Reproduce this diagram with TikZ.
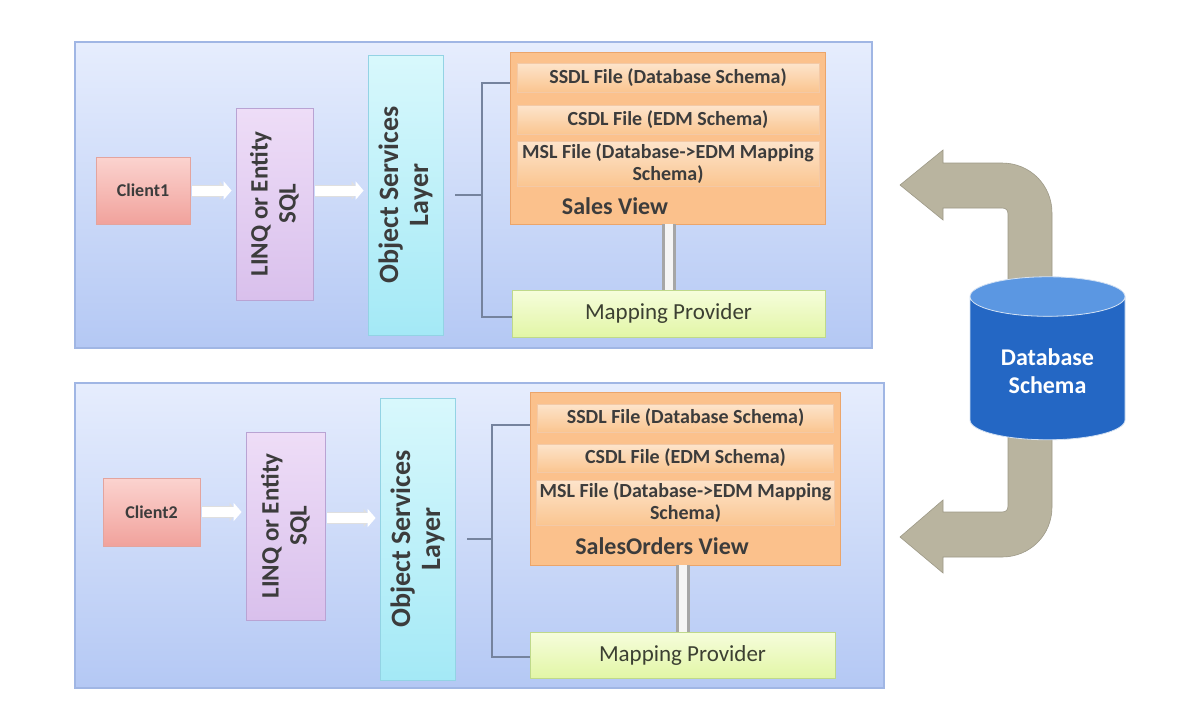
\documentclass[tikz,border=0pt]{standalone}
\usepackage{fontspec}
\setsansfont{Carlito}
\usetikzlibrary{calc, positioning, fit, backgrounds, shapes.geometric, arrows.meta}

\definecolor{pnlA}{HTML}{E6EDFD}
\definecolor{pnlB}{HTML}{B4C8F4}
\definecolor{pnlE}{HTML}{A0B6E4}
\definecolor{cliA}{HTML}{FBD3CF}
\definecolor{cliB}{HTML}{F1A29C}
\definecolor{cliE}{HTML}{E3A49E}
\definecolor{lnqA}{HTML}{EEDDF7}
\definecolor{lnqB}{HTML}{D9C0EC}
\definecolor{lnqE}{HTML}{B9A3D3}
\definecolor{oslA}{HTML}{D8F8FC}
\definecolor{oslB}{HTML}{A4E9F6}
\definecolor{oslE}{HTML}{93D3E4}
\definecolor{orgF}{HTML}{FBC18C}
\definecolor{orgE}{HTML}{EBA56B}
\definecolor{barA}{HTML}{FDE4CB}
\definecolor{barB}{HTML}{FAC590}
\definecolor{mapA}{HTML}{F6FDDC}
\definecolor{mapB}{HTML}{E2F6A6}
\definecolor{mapE}{HTML}{BFD98A}
\definecolor{dbBody}{HTML}{2467C4}
\definecolor{dbTop}{HTML}{5B97E2}
\definecolor{bend}{HTML}{B9B49F}
\definecolor{ink}{HTML}{3C3C3C}
\definecolor{brk}{HTML}{75839E}

\begin{document}
\begin{tikzpicture}[x=0.5pt, y=-0.5pt,
                  every node/.style={font=\sffamily, inner sep=0.5mm, align=center},
                  pnl/.style={draw=pnlE, top color=pnlA, bottom color=pnlB, line width=0.6pt},
                  cli/.style={draw=cliE, top color=cliA, bottom color=cliB, text=ink,
                              font=\sffamily\bfseries\fontsize{9}{11}\selectfont},
                  lnq/.style={draw=lnqE, top color=lnqA, bottom color=lnqB, text=ink, rotate=90,
                              font=\sffamily\bfseries\fontsize{12.5}{14}\selectfont},
                  osl/.style={draw=oslE, top color=oslA, bottom color=oslB, text=ink, rotate=90,
                              font=\sffamily\bfseries\fontsize{14}{15}\selectfont},
                  org/.style={draw=orgE, fill=orgF},
                  bar/.style={draw=orgE!60, top color=barA, bottom color=barB, text=ink,
                              font=\sffamily\bfseries\fontsize{10}{11}\selectfont},
                  vw/.style={text=ink, font=\sffamily\bfseries\fontsize{12}{14}\selectfont},
                  map/.style={draw=mapE, top color=mapA, bottom color=mapB, text=ink!70!mapE!60!black,
                              font=\sffamily\fontsize{11.5}{13}\selectfont},
                  blk/.style={draw=white, line width=5pt, -{Triangle[length=4pt, width=9pt]},
                              shorten <=1pt, shorten >=2pt,
                              preaction={draw=gray!25, line width=6pt, shorten <=1pt, shorten >=4pt}},
                  lnk/.style={draw=gray!70, double=gray!8, double distance=4pt, line width=1.5pt},
                  brkl/.style={draw=brk, line width=0.8pt},
                  bnd/.style={fill=bend, draw=bend!85!black, line width=0.3pt},
                  db/.style={cylinder, shape border rotate=90, aspect=0.4, draw=white!80!dbBody,
                             cylinder uses custom fill, cylinder body fill=dbBody, cylinder end fill=dbTop,
                             text=white, font=\sffamily\bfseries\fontsize{12}{14}\selectfont}]

    \useasboundingbox (0,0) rectangle (1200,720); % pixel grid of the reference
    \fill[white] (0,0) rectangle (1200,720);

    % upper panel
    \node[pnl, minimum width=398.5pt, minimum height=153pt] (pnl1) at (473.5,195) {};
    \node[cli, minimum width=47pt, minimum height=33.5pt] (cli1) at (143,190.5) {Client1};
    \node[lnq, minimum width=96pt, minimum height=38.5pt] (lnq1) at (274.5,204) {LINQ or Entity\\SQL};
    \node[osl, minimum width=140pt, minimum height=37.5pt] (osl1) at (405.5,195) {Object Services\\Layer};
    \node[org, minimum width=157.5pt, minimum height=86pt] (org1) at (667.5,138) {};
    \node[bar, minimum width=151pt, minimum height=14.5pt] (ssdl1) at (668,77.5) {SSDL File (Database Schema)};
    \node[bar, minimum width=151pt, minimum height=14.5pt] (csdl1) at (668,120) {CSDL File (EDM Schema)};
    \node[bar, minimum width=151pt, minimum height=21pt] (msl1) at (668,164) {MSL File (Database->EDM Mapping\\Schema)};
    \node[vw] (vw1) at (615,206) {Sales View};
    \node[map, minimum width=156.5pt, minimum height=23.5pt] (map1) at (668.5,313.5) {Mapping Provider};

    \draw[blk] (cli1.east) -- (cli1.east -| lnq1.north);
    \draw[blk] (lnq1.south |- cli1.east) -- (osl1.north |- cli1.east);
    \draw[lnk] (map1.north) -- (map1.north |- org1.south);

    \coordinate (brT1) at (482,83);
    \coordinate (brB1) at (482,317);
    \draw[brkl] (org1.west |- brT1) -- (brT1) -- (brB1) -- (map1.west |- brB1);
    \draw[brkl] ([xshift=6pt]osl1.south) -- (osl1.south -| brT1);

    % lower panel
    \node[pnl, minimum width=404.5pt, minimum height=152.5pt] (pnl2) at (479.5,535.5) {};
    \node[cli, minimum width=48.5pt, minimum height=34pt] (cli2) at (151.5,512) {Client2};
    \node[lnq, minimum width=94pt, minimum height=39.5pt] (lnq2) at (285.5,526) {LINQ or Entity\\SQL};
    \node[osl, minimum width=141pt, minimum height=37.5pt] (osl2) at (417.5,539) {Object Services\\Layer};
    \node[org, minimum width=155pt, minimum height=86.5pt] (org2) at (685,478.5) {};
    \node[bar, minimum width=148pt, minimum height=14pt] (ssdl2) at (685.5,418) {SSDL File (Database Schema)};
    \node[bar, minimum width=148pt, minimum height=14pt] (csdl2) at (685.5,458) {CSDL File (EDM Schema)};
    \node[bar, minimum width=148pt, minimum height=21pt] (msl2) at (685.5,503) {MSL File (Database->EDM Mapping\\Schema)};
    \node[vw] (vw2) at (662,546) {SalesOrders View};
    \node[map, minimum width=152.5pt, minimum height=23pt] (map2) at (682.5,655) {Mapping Provider};

    \draw[blk] (cli2.east) -- (cli2.east -| lnq2.north);
    \draw[blk] ([yshift=-3pt]lnq2.south |- cli2.east) -- ([yshift=-3pt]osl2.north |- cli2.east);
    \draw[lnk] (map2.north) -- (map2.north |- org2.south);

    \coordinate (brT2) at (492,425);
    \coordinate (brB2) at (492,657);
    \draw[brkl] (org2.west |- brT2) -- (brT2) -- (brB2) -- (map2.west |- brB2);
    \draw[brkl] ([xshift=6pt]osl2.south) -- (osl2.south -| brT2);

    % bent arrows back from the database
    \path[bnd] (1052,300) -- (1052,213) .. controls (1052,185) and (1030,163) .. (1002,163) -- (943,163)
        -- (943,150) -- (900,185) -- (943,220) -- (943,208) -- (1002,208)
        .. controls (1006,208) and (1008,210) .. (1008,214) -- (1008,300) -- cycle;
    \path[bnd] (1052,430) -- (1052,507) .. controls (1052,535) and (1030,557) .. (1002,557) -- (943,557)
        -- (943,573) -- (900,537) -- (943,500) -- (943,512) -- (1002,512)
        .. controls (1006,512) and (1008,510) .. (1008,506) -- (1008,430) -- cycle;

    \node[db, minimum width=77.5pt, minimum height=81.5pt] (db) at (1047.5,371) {Database\\Schema};

\end{tikzpicture}
\end{document}
